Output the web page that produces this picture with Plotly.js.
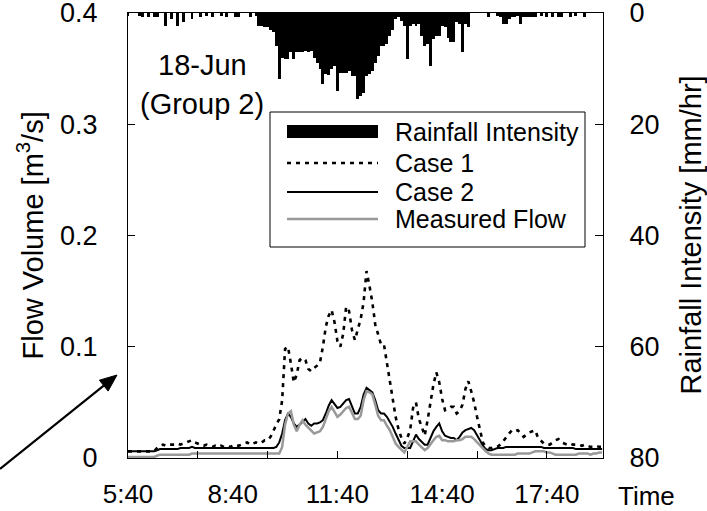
<!DOCTYPE html>
<html>
<head>
<meta charset="utf-8">
<script src="https://cdn.plot.ly/plotly-3.0.1.min.js"></script>
<style>html,body{margin:0;padding:0;background:#fff;}#chart{width:707px;height:511px;}</style>
</head>
<body>
<div id="chart"></div>
<script>
// Time stamps (5-minute steps), 18 June
const times = [
"05:40","05:45","05:50","05:55",
"06:00","06:05","06:10","06:15","06:20","06:25","06:30","06:35","06:40","06:45","06:50","06:55",
"07:00","07:05","07:10","07:15","07:20","07:25","07:30","07:35","07:40","07:45","07:50","07:55",
"08:00","08:05","08:10","08:15","08:20","08:25","08:30","08:35","08:40","08:45","08:50","08:55",
"09:00","09:05","09:10","09:15","09:20","09:25","09:30","09:35","09:40","09:45","09:50","09:55",
"10:00","10:05","10:10","10:15","10:20","10:25","10:30","10:35","10:40","10:45","10:50","10:55",
"11:00","11:05","11:10","11:15","11:20","11:25","11:30","11:35","11:40","11:45","11:50","11:55",
"12:00","12:05","12:10","12:15","12:20","12:25","12:30","12:35","12:40","12:45","12:50","12:55",
"13:00","13:05","13:10","13:15","13:20","13:25","13:30","13:35","13:40","13:45","13:50","13:55",
"14:00","14:05","14:10","14:15","14:20","14:25","14:30","14:35","14:40","14:45","14:50","14:55",
"15:00","15:05","15:10","15:15","15:20","15:25","15:30","15:35","15:40","15:45","15:50","15:55",
"16:00","16:05","16:10","16:15","16:20","16:25","16:30","16:35","16:40","16:45","16:50","16:55",
"17:00","17:05","17:10","17:15","17:20","17:25","17:30","17:35","17:40","17:45","17:50","17:55",
"18:00","18:05","18:10","18:15","18:20","18:25","18:30","18:35","18:40","18:45","18:50","18:55",
"19:00","19:05","19:10","19:15"];

// Rainfall intensity [mm/hr] (right axis, reversed)
const rainfall = [
0.6,0,0,0,
0.5,0.8,0,0.8,0,0.8,0.8,0,0,2.3,0,1.0,
0,2.3,0,1.7,0,0,1.1,0,0,0.8,0,0.6,
0,0.8,0,0,0.6,0,0.8,0,0,0.8,0.8,0,
0,0,0.8,0,0.6,2.3,2.4,2.5,2.5,3.0,3.5,6.0,
11.9,8.0,8.3,8.3,7.0,8.3,7.0,7.0,7.0,6.8,7.0,6.8,
8.0,9.0,10.0,12.8,11.0,11.2,10.0,9.5,14.0,10.7,10.7,10.7,
10.5,11.3,11.3,15.4,15.0,14.3,11.3,11.0,10.4,9.0,7.7,6.0,
6.0,5.6,4.1,3.0,1.0,0.8,1.5,2.3,8.3,2.3,2.0,2.3,
2.0,4.1,5.9,5.5,9.5,4.7,4.1,4.1,2.3,2.5,4.5,5.3,
5.3,1.7,2.0,7.0,2.0,2.5,0,0,0,0,0,0,
0.8,0,0,0.6,0.8,2.0,2.0,1.0,0.8,0.8,0.6,2.0,
0.8,0.8,0.8,0.8,0.8,0,0.6,0,0.8,0,0.8,0,
0.8,0.8,0,0,0.8,0,0.6,0,0,0.8,0,0,
0,0,0,0];

// Flow volume [m3/s]
const case1 = [
0.006,0.006,0.006,0.006,
0.006,0.006,0.006,0.006,0.006,0.006,0.009,0.011,0.012,0.011,0.012,0.012,
0.012,0.013,0.012,0.013,0.014,0.015,0.016,0.014,0.013,0.012,0.011,0.012,
0.011,0.010,0.011,0.010,0.011,0.010,0.011,0.010,0.011,0.012,0.011,0.012,
0.013,0.014,0.012,0.013,0.014,0.013,0.014,0.016,0.016,0.019,0.025,0.030,
0.035,0.052,0.098,0.100,0.085,0.068,0.075,0.088,0.090,0.088,0.080,0.078,
0.081,0.083,0.086,0.100,0.118,0.128,0.133,0.122,0.105,0.100,0.112,0.136,
0.132,0.115,0.106,0.115,0.125,0.140,0.168,0.155,0.140,0.120,0.110,0.102,
0.102,0.086,0.066,0.050,0.037,0.026,0.018,0.013,0.018,0.025,0.045,0.050,
0.035,0.028,0.020,0.034,0.050,0.066,0.077,0.068,0.053,0.043,0.044,0.046,
0.046,0.040,0.042,0.048,0.062,0.069,0.060,0.050,0.037,0.024,0.014,0.010,
0.009,0.009,0.010,0.010,0.012,0.015,0.019,0.022,0.025,0.024,0.025,0.022,
0.019,0.021,0.023,0.024,0.025,0.018,0.015,0.013,0.012,0.012,0.014,0.016,
0.017,0.014,0.013,0.012,0.013,0.012,0.012,0.012,0.011,0.012,0.011,0.010,
0.010,0.011,0.010,0.010];

const case2 = [
0.006,0.006,0.006,0.006,
0.006,0.006,0.006,0.006,0.006,0.006,0.007,0.008,0.008,0.008,0.008,0.008,
0.008,0.008,0.009,0.009,0.009,0.009,0.010,0.009,0.009,0.009,0.009,0.009,
0.009,0.009,0.009,0.009,0.009,0.009,0.009,0.009,0.009,0.009,0.009,0.009,
0.009,0.009,0.009,0.009,0.009,0.009,0.009,0.009,0.009,0.009,0.009,0.010,
0.014,0.022,0.034,0.040,0.037,0.031,0.028,0.030,0.033,0.035,0.031,0.029,
0.031,0.031,0.032,0.034,0.040,0.047,0.052,0.048,0.045,0.046,0.049,0.052,
0.053,0.046,0.040,0.040,0.046,0.057,0.063,0.061,0.059,0.052,0.043,0.040,
0.040,0.037,0.033,0.028,0.022,0.016,0.011,0.009,0.009,0.009,0.015,0.021,
0.017,0.014,0.012,0.012,0.018,0.024,0.028,0.031,0.024,0.020,0.019,0.018,
0.018,0.016,0.019,0.023,0.025,0.026,0.027,0.025,0.021,0.016,0.011,0.008,
0.007,0.007,0.008,0.009,0.009,0.009,0.010,0.010,0.010,0.010,0.010,0.010,
0.010,0.010,0.010,0.010,0.010,0.010,0.010,0.009,0.009,0.009,0.009,0.009,
0.009,0.009,0.009,0.009,0.009,0.009,0.008,0.008,0.008,0.008,0.008,0.008,
0.008,0.008,0.008,0.008];

const measured = [
0.001,0.001,0.001,0.001,
0.001,0.001,0.001,0.001,0.001,0.001,0.002,0.003,0.003,0.003,0.003,0.003,
0.003,0.003,0.003,0.003,0.003,0.003,0.004,0.004,0.004,0.004,0.004,0.004,
0.004,0.004,0.004,0.004,0.004,0.004,0.004,0.004,0.004,0.004,0.004,0.004,
0.004,0.004,0.004,0.004,0.004,0.004,0.004,0.004,0.004,0.004,0.004,0.004,
0.004,0.010,0.030,0.040,0.042,0.030,0.024,0.030,0.034,0.030,0.027,0.024,
0.022,0.023,0.024,0.028,0.035,0.042,0.046,0.041,0.037,0.039,0.042,0.045,
0.046,0.040,0.035,0.035,0.038,0.052,0.060,0.059,0.057,0.048,0.038,0.034,
0.034,0.029,0.025,0.019,0.013,0.010,0.007,0.005,0.010,0.015,0.015,0.015,
0.012,0.009,0.007,0.009,0.013,0.016,0.019,0.020,0.016,0.016,0.015,0.015,
0.015,0.016,0.016,0.017,0.019,0.019,0.019,0.017,0.014,0.011,0.008,0.006,
0.004,0.003,0.003,0.003,0.003,0.003,0.003,0.003,0.003,0.003,0.004,0.004,
0.004,0.004,0.004,0.005,0.006,0.006,0.006,0.006,0.005,0.005,0.004,0.003,
0.003,0.003,0.003,0.003,0.003,0.003,0.003,0.004,0.004,0.004,0.004,0.003,
0.004,0.004,0.005,0.005];

// Axis labels
const xLabelTimes = ["05:40","08:40","11:40","14:40","17:40"];
const xLabelText  = ["5:40","8:40","11:40","14:40","17:40"];
const xTickMarkTimes = ["07:40","09:40","11:40","13:40","15:40","17:40"];
const xRange = ["05:40","19:16:30"];
const flowTicks = [0,0.1,0.2,0.3,0.4];
const flowTickText = ["0","0.1","0.2","0.3","0.4"];
const rainTicks = [0,20,40,60,80];
const seriesNames = ["Rainfall Intensity","Case 1","Case 2","Measured Flow"];

const DAY = "2000-06-18 ";
const d = t => DAY + t;
const X = times.map(d);
const FONT = '"Liberation Sans", Arial, sans-serif';

const traces = [
  {type:'bar', x:X, y:rainfall, yaxis:'y2', name:seriesNames[0],
   marker:{color:'#000', line:{width:0}}, hoverinfo:'skip'},
  {type:'scatter', mode:'lines', x:X, y:case1, name:seriesNames[1],
   line:{color:'#000', width:2.6, dash:'4px,5px'}},
  {type:'scatter', mode:'lines', x:X, y:case2, name:seriesNames[2],
   line:{color:'#000', width:2}},
  {type:'scatter', mode:'lines', x:X, y:measured, name:seriesNames[3],
   line:{color:'#999', width:2.5}}
];

// plot area geometry helpers (paper coords)
const L=128, R=603, T=13, B=458;
const px = x => (x-L)/(R-L);
const py = y => (B-y)/(B-T);

// pointer arrow (tail off the left edge, head near the left axis)
const tail = [0,469], tip = [117,375];
const ux = tip[0]-tail[0], uy = tip[1]-tail[1], ul = Math.hypot(ux,uy);
const dx = ux/ul, dy = uy/ul, HL = 17, HW = 7;
const base = [tip[0]-HL*dx, tip[1]-HL*dy];
const c1 = [base[0]-HW*dy, base[1]+HW*dx], c2 = [base[0]+HW*dy, base[1]-HW*dx];
const P = p => px(p[0]) + ',' + py(p[1]);

const shapes = [
  {type:'rect', xref:'paper', yref:'paper', x0:px(270), x1:px(585), y0:py(247), y1:py(112),
   line:{color:'#000', width:1}, fillcolor:'#fff', layer:'above'},
  {type:'rect', xref:'paper', yref:'paper', x0:px(287), x1:px(378), y0:py(138), y1:py(125),
   line:{width:0}, fillcolor:'#000', layer:'above'},
  {type:'line', xref:'paper', yref:'paper', x0:px(287), x1:px(378), y0:py(163), y1:py(163),
   line:{color:'#000', width:2.6, dash:'4px,5px'}, layer:'above'},
  {type:'line', xref:'paper', yref:'paper', x0:px(287), x1:px(378), y0:py(192), y1:py(192),
   line:{color:'#000', width:2}, layer:'above'},
  {type:'line', xref:'paper', yref:'paper', x0:px(287), x1:px(378), y0:py(219), y1:py(219),
   line:{color:'#999', width:2.5}, layer:'above'},
  {type:'line', xref:'paper', yref:'paper', x0:px(tail[0]), y0:py(tail[1]), x1:px(base[0]), y1:py(base[1]),
   line:{color:'#000', width:2.2}, layer:'above'},
  {type:'path', xref:'paper', yref:'paper', path:'M'+P(tip)+' L'+P(c1)+' L'+P(c2)+' Z',
   fillcolor:'#000', line:{color:'#000', width:1}, layer:'above'}
];

const legY = [132,163,192,219];
const annotations = seriesNames.map((n,i)=>({
  xref:'paper', yref:'paper', x:px(393), y:py(legY[i]), xanchor:'left', yanchor:'middle',
  text:n, showarrow:false, font:{size:25}
}));
annotations.push(
  {xref:'paper', yref:'paper', x:px(202), y:py(65), xanchor:'center', yanchor:'middle',
   text:'18-Jun', showarrow:false, font:{size:29}},
  {xref:'paper', yref:'paper', x:px(202), y:py(104), xanchor:'center', yanchor:'middle',
   text:'(Group 2)', showarrow:false, font:{size:29}},
  {xref:'paper', yref:'paper', x:px(30), y:0.5, xanchor:'center', yanchor:'middle',
   text:'Flow Volume [m<sup>3</sup>/s]', textangle:-90, showarrow:false, font:{size:29}},
  {xref:'paper', yref:'paper', x:px(690), y:0.5, xanchor:'center', yanchor:'middle',
   text:'Rainfall Intensity [mm/hr]', textangle:-90, showarrow:false, font:{size:29}},
  {xref:'paper', yref:'paper', x:px(646), y:py(496), xanchor:'center', yanchor:'middle',
   text:'Time', showarrow:false, font:{size:26}}
);

const layout = {
  width:707, height:511,
  margin:{l:L, r:707-R, t:T, b:511-B, pad:0},
  paper_bgcolor:'#fff', plot_bgcolor:'#fff',
  showlegend:false, bargap:0,
  font:{family:FONT, size:26, color:'#000'},
  xaxis:{type:'date', range:xRange.map(d), tickmode:'array',
    tickvals:xLabelTimes.map(d), ticktext:xLabelText, ticks:'',
    showgrid:false, zeroline:false, showline:true, linecolor:'#000', linewidth:1, mirror:true,
    ticklabelstandoff:13, ticklabeloverflow:'allow', tickfont:{size:26},
    minor:{tickmode:'array', tickvals:xTickMarkTimes.map(d), ticks:'inside', ticklen:7,
      tickcolor:'#000', tickwidth:1, showgrid:false}},
  yaxis:{range:[0,0.4], tickmode:'array', tickvals:flowTicks, ticktext:flowTickText,
    ticks:'inside', ticklen:7, tickcolor:'#000', showgrid:false, zeroline:false,
    showline:true, linecolor:'#000', linewidth:1, ticklabelstandoff:24,
    ticklabeloverflow:'allow', tickfont:{size:27}},
  yaxis2:{overlaying:'y', side:'right', range:[80,0], tickmode:'array', tickvals:rainTicks,
    ticks:'inside', ticklen:8, tickcolor:'#000', showgrid:false, zeroline:false,
    showline:true, linecolor:'#000', linewidth:1, ticklabelstandoff:20,
    ticklabeloverflow:'allow', tickfont:{size:27}},
  shapes:shapes, annotations:annotations
};

Plotly.newPlot('chart', traces, layout, {displayModeBar:false, staticPlot:true});
</script>
</body>
</html>
